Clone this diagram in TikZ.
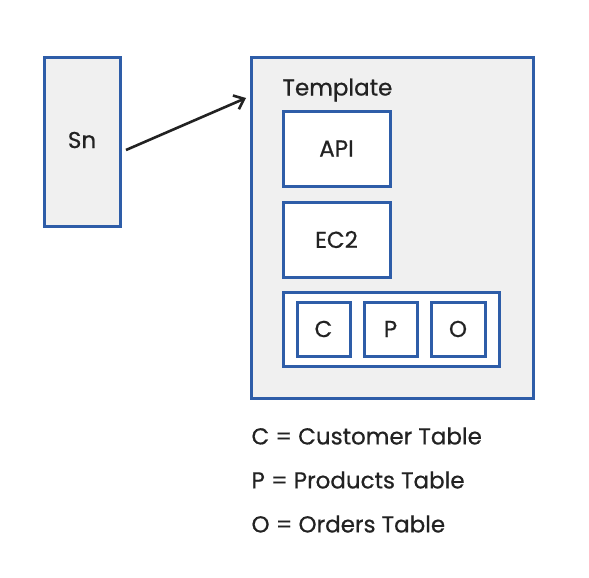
\documentclass[tikz,border=0pt]{standalone}
\usepackage{fontspec}
\setmainfont{Poppins}[FakeBold=0.6]
\usetikzlibrary{arrows.meta}
\definecolor{bblue}{HTML}{2E5DA8}
\definecolor{lgray}{HTML}{F0F0F0}
\definecolor{ink}{HTML}{222222}
\begin{document}
\begin{tikzpicture}[x=1pt,y=-1pt,
  box/.style={draw=bblue,line width=3pt,fill=#1},
  box/.default=white,
  lbl/.style={text=ink,font=\fontsize{23}{26}\selectfont},
  leg/.style={text=ink,font=\fontsize{23}{26}\selectfont,anchor=west}]
\useasboundingbox (0,0) rectangle (589,578);
\fill[white] (0,0) rectangle (589,578);
\draw[box=lgray] (44,58) rectangle (120,226);
\node[lbl] (sn) at (82,140) {Sn};
\coordinate (snr) at (126,150);
\draw[box=lgray] (251,58) rectangle (533,398);
\coordinate (tin) at (246,98);
\node[lbl,anchor=west] (tmpl) at (279,90) {Template};
\draw[box] (283,111) rectangle (390,186);
\node[lbl] (api) at (336.5,148.5) {API};
\draw[box] (283,202) rectangle (390,277);
\node[lbl] (ec2) at (336.5,239.5) {EC2};
\draw[box] (283,292) rectangle (499,366);
\draw[box] (297,302) rectangle (350,356);
\node[lbl] (c) at (323.5,329) {C};
\draw[box] (364,302) rectangle (417,356);
\node[lbl] (p) at (390.5,329) {P};
\draw[box] (431,302) rectangle (485,356);
\node[lbl] (o) at (458,329) {O};
\draw[ink,line width=2.6pt,-{Straight Barb[length=9pt,width=15pt]}] (snr) -- (tin);
\node[leg] (l1) at (248,436) {C = Customer Table};
\node[leg] (l2) at (248,480) {P = Products Table};
\node[leg] (l3) at (248,524) {O = Orders Table};
\end{tikzpicture}
\end{document}
